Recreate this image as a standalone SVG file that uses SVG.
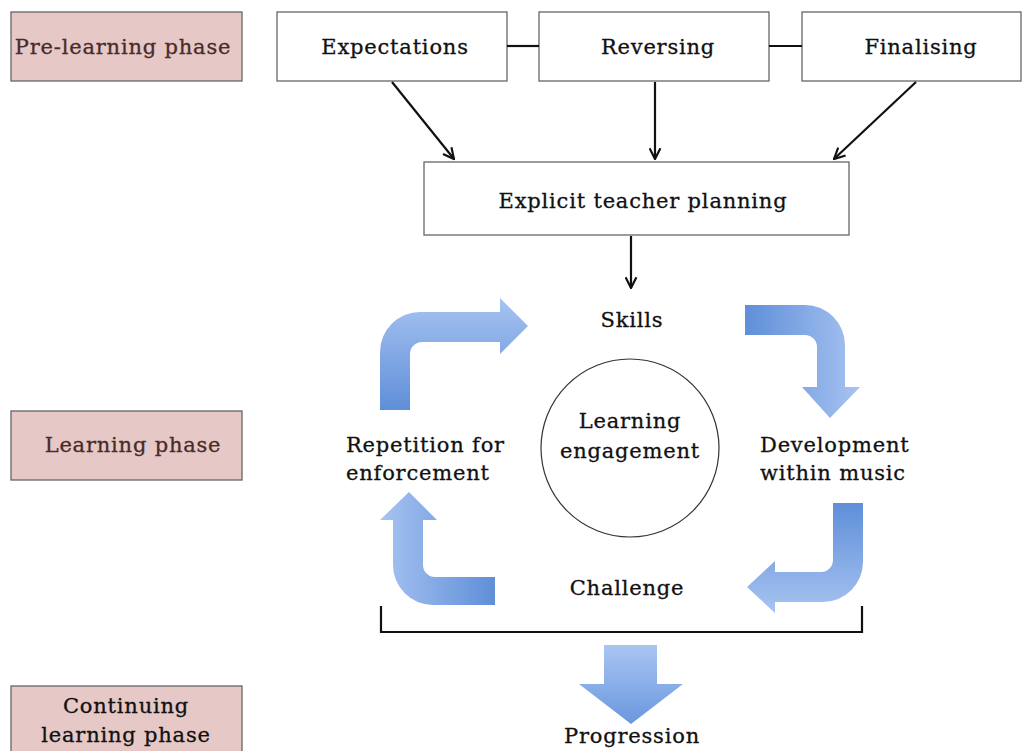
<svg xmlns="http://www.w3.org/2000/svg" width="1024" height="751" viewBox="0 0 1024 751">
<style>
.t{font-family:"DejaVu Serif","Liberation Serif",serif;font-size:21px;letter-spacing:0.8px;fill:#111;stroke:#111;stroke-width:0.3}
.ph{font-family:"DejaVu Serif","Liberation Serif",serif;font-size:21px;letter-spacing:0.8px;fill:#4a2b2b;stroke:#4a2b2b;stroke-width:0.3}
.box{fill:#fff;stroke:#666;stroke-width:1.3}
.pbox{fill:#e6c8c6;stroke:#666;stroke-width:1.3}
.ln{stroke:#111;stroke-width:2.2;fill:none}
</style>
<defs>
<marker id="ah" viewBox="0 0 12 12" refX="11" refY="6" markerWidth="13" markerHeight="13" markerUnits="userSpaceOnUse" orient="auto">
<path d="M1,1 L11,6 L1,11" fill="none" stroke="#111" stroke-width="2"/>
</marker>
<linearGradient id="gUp" x1="0" y1="1" x2="0" y2="0"><stop offset="0" stop-color="#5f8fd8"/><stop offset="1" stop-color="#a7c3f1"/></linearGradient>
<linearGradient id="gRight" x1="0" y1="0" x2="1" y2="0"><stop offset="0" stop-color="#5f8fd8"/><stop offset="1" stop-color="#a7c3f1"/></linearGradient>
<linearGradient id="gLeft" x1="1" y1="0" x2="0" y2="0"><stop offset="0" stop-color="#5f8fd8"/><stop offset="1" stop-color="#a7c3f1"/></linearGradient>
<linearGradient id="gDown" x1="0" y1="0" x2="0" y2="1"><stop offset="0" stop-color="#5f8fd8"/><stop offset="1" stop-color="#a7c3f1"/></linearGradient>
<linearGradient id="gProg" x1="0" y1="0" x2="0" y2="1"><stop offset="0" stop-color="#a9c5f2"/><stop offset="1" stop-color="#6a97de"/></linearGradient>
</defs>

<g id="pre-learning">
<rect class="pbox" x="11" y="12" width="231" height="69"/>
<text class="ph" x="123" y="54" text-anchor="middle">Pre-learning phase</text>
</g>
<g id="learning-phase">
<rect class="pbox" x="11" y="411" width="231" height="69"/>
<text class="ph" x="133" y="452" text-anchor="middle">Learning phase</text>
</g>
<g id="continuing">
<rect class="pbox" x="11" y="686" width="231" height="70"/>
<text class="t" x="126" y="713" text-anchor="middle">Continuing</text>
<text class="t" x="126" y="742" text-anchor="middle">learning phase</text>
</g>

<g id="expectations">
<rect class="box" x="277" y="12" width="230" height="69"/>
<text class="t" x="395" y="54" text-anchor="middle">Expectations</text>
</g>
<g id="reversing">
<rect class="box" x="539" y="12" width="230" height="69"/>
<text class="t" x="658" y="54" text-anchor="middle">Reversing</text>
</g>
<g id="finalising">
<rect class="box" x="802" y="12" width="219" height="69"/>
<text class="t" x="921" y="54" text-anchor="middle">Finalising</text>
</g>
<g id="planning">
<rect class="box" x="424" y="162" width="425" height="73"/>
<text class="t" x="643" y="208" text-anchor="middle">Explicit teacher planning</text>
</g>

<g id="connectors">
<line class="ln" x1="507" y1="46" x2="539" y2="46"/>
<line class="ln" x1="769" y1="46" x2="802" y2="46"/>
<line class="ln" x1="392" y1="82" x2="454" y2="159" marker-end="url(#ah)"/>
<line class="ln" x1="655" y1="82" x2="655" y2="159" marker-end="url(#ah)"/>
<line class="ln" x1="916" y1="82" x2="834" y2="159" marker-end="url(#ah)"/>
<line class="ln" x1="631" y1="236" x2="631" y2="288" marker-end="url(#ah)"/>
<path class="ln" d="M381,606 V632 H862 V606" stroke-width="2.5"/>
</g>

<g id="cycle-arrows">
<path fill="url(#gUp)" d="M380,410 V352 A40,40 0 0 1 420,312 H500 V298 L528,326 L500,354 V342 H422 A12,12 0 0 0 410,354 V410 Z"/>
<path fill="url(#gRight)" d="M745,305 H805 A40,40 0 0 1 845,345 V387 H860 L830,418 L802,387 H817 V347 A12,12 0 0 0 805,335 H745 Z"/>
<path fill="url(#gDown)" d="M833,503 H863 V562 A40,40 0 0 1 823,602 H775 V613 L747,587 L775,561 V572 H821 A12,12 0 0 0 833,560 Z"/>
<path fill="url(#gLeft)" d="M495,577 H435 A12,12 0 0 1 423,565 V520 H437 L409,492 L380,520 H393 V565 A40,40 0 0 0 433,605 H495 Z"/>
</g>

<g id="progression-arrow">
<path fill="url(#gProg)" d="M604,645 H657 V684 H683 L631,724 L579,684 H604 Z"/>
</g>

<g id="skills"><text class="t" x="632" y="327" text-anchor="middle">Skills</text></g>
<g id="engagement">
<circle cx="630" cy="448" r="89" fill="#fff" stroke="#333" stroke-width="1.2"/>
<text class="t" x="630" y="428" text-anchor="middle">Learning</text>
<text class="t" x="630" y="458" text-anchor="middle">engagement</text>
</g>
<g id="repetition">
<text class="t" x="346" y="452">Repetition for</text>
<text class="t" x="346" y="480">enforcement</text>
</g>
<g id="development">
<text class="t" x="760" y="452">Development</text>
<text class="t" x="760" y="480">within music</text>
</g>
<g id="challenge"><text class="t" x="627" y="595" text-anchor="middle">Challenge</text></g>
<g id="progression"><text class="t" x="632" y="743" text-anchor="middle">Progression</text></g>
</svg>
